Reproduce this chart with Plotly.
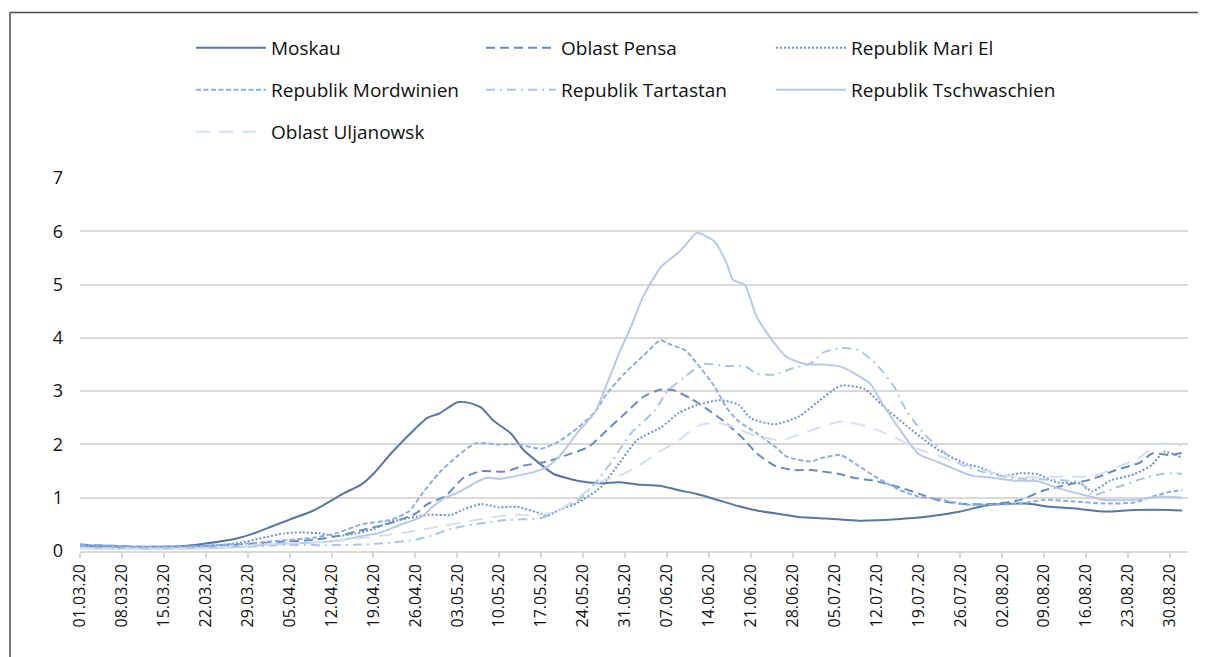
import pandas as pd
import plotly.graph_objects as go

START = "2020-03-01"

# day offsets from 01.03.2020 and values
moskau_days = [0, 5, 10, 14, 17, 21, 26, 29, 32, 35, 39, 42, 44, 47, 49, 52, 56, 58, 60, 63, 65, 67, 69, 72, 74, 77, 79, 83, 87, 90, 93, 97, 100, 103, 107, 110, 113, 117, 120, 123, 130, 137, 142, 147, 151, 154, 158, 162, 167, 171, 176, 182, 184]
moskau_vals = [0.10, 0.08, 0.07, 0.08, 0.09, 0.14, 0.23, 0.33, 0.46, 0.59, 0.76, 0.95, 1.08, 1.25, 1.45, 1.84, 2.30, 2.50, 2.58, 2.79, 2.78, 2.69, 2.45, 2.20, 1.90, 1.62, 1.45, 1.32, 1.27, 1.29, 1.25, 1.22, 1.14, 1.07, 0.94, 0.84, 0.76, 0.69, 0.64, 0.62, 0.57, 0.60, 0.65, 0.74, 0.85, 0.88, 0.89, 0.83, 0.79, 0.74, 0.77, 0.77, 0.76]

pensa_days = [0, 5, 10, 15, 20, 25, 29, 33, 39, 43, 47, 52, 56, 58, 61, 64, 67, 71, 74, 78, 81, 85, 88, 91, 94, 97, 99, 102, 105, 108, 111, 113, 116, 119, 122, 127, 129, 133, 137, 141, 144, 148, 153, 157, 161, 166, 169, 173, 177, 179, 182, 184]
pensa_vals = [0.12, 0.10, 0.08, 0.08, 0.09, 0.11, 0.14, 0.17, 0.21, 0.28, 0.39, 0.53, 0.70, 0.88, 1.03, 1.37, 1.50, 1.49, 1.60, 1.68, 1.79, 1.96, 2.27, 2.58, 2.89, 3.03, 3.02, 2.86, 2.64, 2.39, 2.08, 1.83, 1.60, 1.52, 1.52, 1.44, 1.38, 1.31, 1.19, 1.04, 0.93, 0.88, 0.89, 0.96, 1.14, 1.27, 1.35, 1.52, 1.66, 1.83, 1.80, 1.84]

marie_days = [0, 5, 10, 15, 20, 24, 27, 31, 34, 37, 40, 43, 46, 49, 52, 56, 58, 62, 64, 67, 70, 73, 77, 78, 80, 83, 87, 90, 93, 97, 100, 103, 107, 110, 112, 116, 120, 123, 127, 131, 134, 138, 142, 144, 148, 150, 154, 157, 160, 163, 167, 169, 172, 176, 179, 181, 184]
marie_vals = [0.10, 0.09, 0.08, 0.08, 0.09, 0.12, 0.16, 0.26, 0.33, 0.35, 0.33, 0.28, 0.33, 0.41, 0.55, 0.64, 0.68, 0.68, 0.78, 0.88, 0.82, 0.83, 0.70, 0.66, 0.77, 0.90, 1.20, 1.64, 2.08, 2.32, 2.59, 2.74, 2.83, 2.74, 2.49, 2.38, 2.52, 2.78, 3.10, 3.04, 2.73, 2.35, 2.00, 1.85, 1.63, 1.58, 1.41, 1.46, 1.44, 1.29, 1.27, 1.12, 1.32, 1.44, 1.62, 1.86, 1.75]

mordw_days = [0, 5, 10, 15, 20, 25, 29, 33, 39, 43, 47, 52, 55, 57, 60, 63, 66, 70, 73, 77, 80, 83, 86, 88, 91, 94, 97, 98, 101, 103, 106, 108, 110, 113, 116, 118, 122, 124, 127, 130, 133, 137, 140, 143, 148, 152, 157, 161, 166, 171, 176, 179, 182, 184]
mordw_vals = [0.12, 0.10, 0.08, 0.08, 0.09, 0.12, 0.15, 0.19, 0.25, 0.34, 0.50, 0.59, 0.75, 1.06, 1.47, 1.78, 2.02, 2.00, 2.00, 1.92, 2.06, 2.30, 2.61, 2.96, 3.34, 3.66, 3.96, 3.90, 3.77, 3.52, 3.08, 2.68, 2.43, 2.21, 1.96, 1.77, 1.68, 1.75, 1.80, 1.60, 1.38, 1.14, 1.02, 0.98, 0.87, 0.87, 0.89, 0.96, 0.93, 0.89, 0.91, 1.02, 1.11, 1.14]

tart_days = [0, 5, 10, 15, 20, 25, 30, 33, 42, 47, 52, 56, 59, 62, 67, 71, 77, 80, 83, 86, 89, 92, 96, 98, 101, 104, 108, 111, 113, 116, 119, 122, 124, 127, 130, 133, 136, 138, 141, 144, 147, 151, 155, 159, 163, 167, 169, 173, 178, 181, 184]
tart_vals = [0.07, 0.06, 0.05, 0.05, 0.06, 0.07, 0.09, 0.11, 0.11, 0.12, 0.16, 0.21, 0.30, 0.42, 0.52, 0.58, 0.62, 0.77, 0.93, 1.27, 1.71, 2.21, 2.64, 2.99, 3.27, 3.51, 3.47, 3.47, 3.33, 3.31, 3.43, 3.52, 3.72, 3.81, 3.77, 3.50, 3.07, 2.63, 2.19, 1.88, 1.63, 1.48, 1.38, 1.35, 1.33, 1.29, 1.05, 1.19, 1.38, 1.45, 1.45]

tschw_days = [0, 10, 20, 27, 33, 39, 43, 47, 50, 53, 57, 59, 61, 63, 66, 68, 70, 72, 76, 78, 80, 83, 86, 88, 90, 92, 94, 97, 100, 102, 103, 106, 108, 109, 111, 113, 116, 118, 121, 124, 127, 129, 132, 134, 137, 140, 143, 146, 149, 152, 156, 160, 163, 167, 171, 176, 180, 184]
tschw_vals = [0.05, 0.04, 0.05, 0.08, 0.13, 0.16, 0.19, 0.28, 0.34, 0.47, 0.64, 0.84, 1.00, 1.09, 1.28, 1.38, 1.35, 1.39, 1.49, 1.58, 1.77, 2.21, 2.61, 3.14, 3.71, 4.21, 4.77, 5.33, 5.61, 5.86, 5.97, 5.80, 5.39, 5.09, 4.99, 4.39, 3.89, 3.64, 3.51, 3.50, 3.46, 3.35, 3.13, 2.76, 2.26, 1.82, 1.68, 1.54, 1.41, 1.38, 1.32, 1.31, 1.19, 1.07, 0.96, 0.96, 1.02, 1.00]

uljan_days = [0, 10, 20, 27, 33, 39, 44, 50, 56, 61, 67, 72, 77, 80, 83, 87, 90, 93, 97, 100, 103, 106, 109, 112, 117, 120, 123, 127, 131, 134, 137, 140, 144, 147, 151, 155, 160, 164, 169, 173, 177, 180, 184]
uljan_vals = [0.05, 0.04, 0.05, 0.09, 0.14, 0.16, 0.21, 0.28, 0.38, 0.48, 0.60, 0.68, 0.68, 0.77, 0.99, 1.31, 1.41, 1.58, 1.88, 2.08, 2.34, 2.41, 2.33, 2.19, 2.08, 2.18, 2.30, 2.43, 2.35, 2.23, 2.08, 1.91, 1.76, 1.64, 1.51, 1.41, 1.38, 1.40, 1.40, 1.57, 1.76, 2.01, 1.98]

y_ticks = [0, 1, 2, 3, 4, 5, 6, 7]

series = [
    ("Moskau", moskau_days, moskau_vals, "#5876a4", "solid", "legend"),
    ("Oblast Pensa", pensa_days, pensa_vals, "#6a8bc0", "9px,5px", "legend"),
    ("Republik Mari El", marie_days, marie_vals, "#6f93d0", "2px,2px", "legend"),
    ("Republik Mordwinien", mordw_days, mordw_vals, "#8cafe3", "5px,2.5px", "legend2"),
    ("Republik Tartastan", tart_days, tart_vals, "#a9c4ea", "9px,5px,2px,5px", "legend2"),
    ("Republik Tschwaschien", tschw_days, tschw_vals, "#b6c9ea", "solid", "legend2"),
    ("Oblast Uljanowsk", uljan_days, uljan_vals, "#d3dff2", "14px,9px", "legend3"),
]

start = pd.Timestamp(START)
fig = go.Figure()
for name, days, vals, color, dash, leg in series:
    x = [start + pd.Timedelta(days=d) for d in days]
    fig.add_trace(go.Scatter(x=x, y=vals, name=name, mode="lines",
                             line=dict(color=color, width=2, dash=dash, shape="spline", smoothing=0.6),
                             legend=leg))

# the page body adds an 8px offset; layout below is given in viewport pixels
OFF = 8
W, H = 1198, 649
PLOT_L, PLOT_R, PLOT_T, PLOT_B = 80, 1188, 178, 551   # viewport pixels
L = PLOT_L - OFF
R = W - (PLOT_R - OFF)
T = PLOT_T - OFF
B = H - (PLOT_B - OFF)
pw, ph = PLOT_R - PLOT_L, PLOT_B - PLOT_T

def px(xpix):
    return (xpix - PLOT_L) / pw

def py(ypix):
    return (PLOT_B - ypix) / ph

font_family = "Open Sans, Noto Sans, sans-serif"
leg_common = dict(orientation="h", xanchor="left", yanchor="middle", entrywidth=205,
                  entrywidthmode="pixels", itemwidth=70, bgcolor="rgba(0,0,0,0)",
                  font=dict(family=font_family, size=19, color="#111111"))

border = dict(color="#4d4d4d", width=1.5)

fig.update_layout(
    width=W, height=H,
    margin=dict(l=L, r=R, t=T, b=B, autoexpand=False),
    paper_bgcolor="white", plot_bgcolor="white",
    font=dict(family=font_family, color="#111111"),
    showlegend=True,
    legend=dict(x=px(191), y=py(48), **leg_common),
    legend2=dict(x=px(191), y=py(90), **leg_common),
    legend3=dict(x=px(191), y=py(132), **leg_common),
    xaxis=dict(type="date", range=[start, start + pd.Timedelta(days=185)],
               tick0=START, dtick=7 * 86400000, tickformat="%d.%m.%y", tickangle=-90,
               ticks="outside", ticklen=5, tickcolor="#d9d9d9", tickwidth=1.5,
               showline=True, linecolor="#d9d9d9", linewidth=1.5, showgrid=False,
               tickfont=dict(size=16, color="#111111"), fixedrange=True),
    yaxis=dict(range=[0, 7], tickvals=y_ticks, showgrid=True, gridcolor="#d9d9d9", gridwidth=1.5,
               zeroline=False, showline=False, ticks="", ticklabelstandoff=16,
               tickfont=dict(size=18, color="#111111"), fixedrange=True),
    shapes=[
        dict(type="line", xref="paper", yref="paper", x0=px(10), x1=px(1206), y0=py(12.5), y1=py(12.5),
             line=border, layer="below"),
        dict(type="line", xref="paper", yref="paper", x0=px(10), x1=px(10), y0=py(12.5), y1=py(657),
             line=border, layer="below"),
    ],
)

fig.write_html("out.html")
